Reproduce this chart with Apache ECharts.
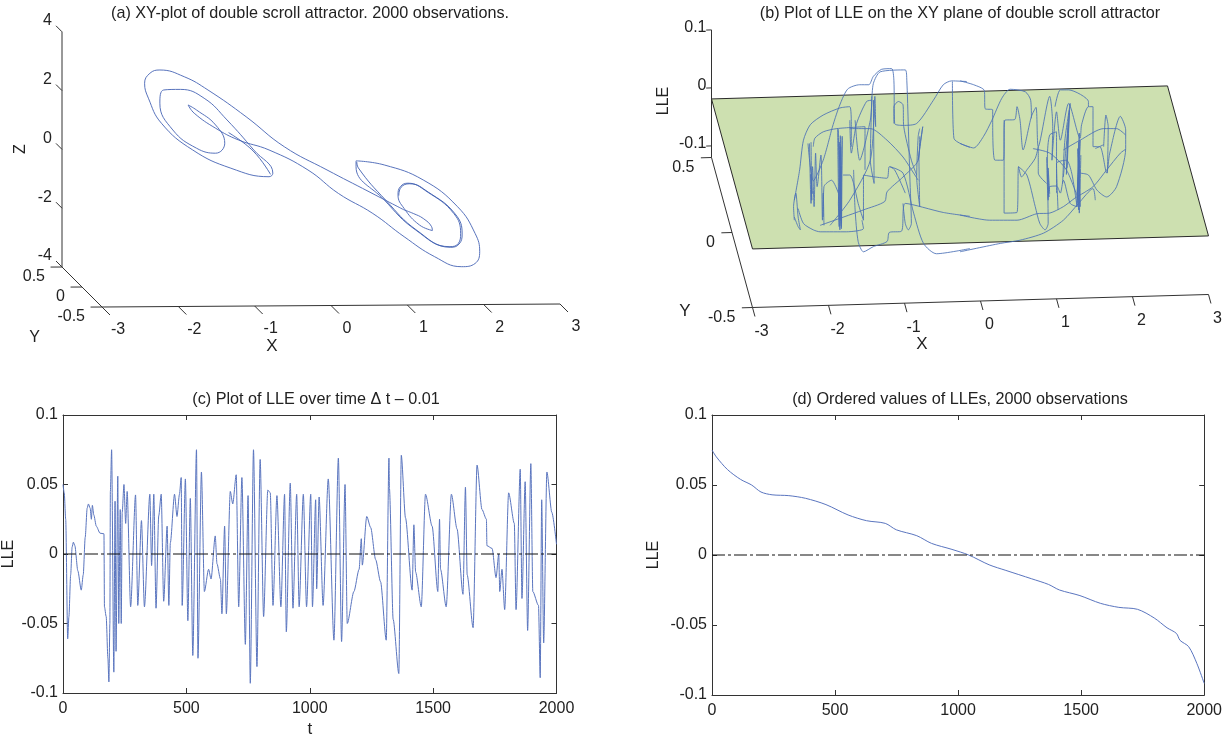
<!DOCTYPE html>
<html><head><meta charset="utf-8">
<style>html,body{margin:0;padding:0;background:#fff}#c{width:1225px;height:739px}</style>
<script src="https://cdn.jsdelivr.net/npm/echarts@6/dist/echarts.min.js"></script>
</head><body><div id="c"></div>
<script>
// ---------- panel (a): attractor as [X, Z]
const attractor = [[1.22,-1.43],[.76,-.81],[.21,-.07],[-.35,.72],[-.85,1.74],[-1.35,2.65],[-1.66,3.10],[-1.98,3.33],[-2.11,3.22],[-2.18,2.88],[-2.13,2.37],[-1.96,1.52],[-1.55,.61],[-1.05,-.01],[-.55,-.30],[-.50,-.18],[-.75,.61],[-1.10,1.63],[-1.40,2.37],[-1.71,2.67],[-1.93,2.65],[-1.98,2.20],[-1.81,1.29],[-1.50,.67],[-1.25,.50],[-1.13,.84],[-1.25,1.46],[-1.50,1.97],[-1.61,2.14],[-1.53,1.86],[-1.25,1.35],[-.95,.95],[-.55,.61],[-.04,-.07],[.36,-.87],[.81,-1.55],[1.22,-2.34],[1.62,-3.02],[1.97,-3.36],[2.15,-3.25],[2.21,-2.85],[2.15,-2.23],[1.92,-1.32],[1.47,-.41],[.96,.10],[.59,.24],[.59,.04],[.96,-1.09],[1.37,-2.11],[1.82,-2.68],[1.93,-2.57],[1.96,-2.23],[1.87,-1.55],[1.52,-.81],[1.27,-.52],[1.17,-.64],[1.14,-.92],[1.22,-1.38],[1.42,-1.94],[1.59,-2.13],[1.58,-2.0],[1.47,-1.72],[1.34,-1.55],[1.22,-1.43]];
const attractorRepeat = [[.60,.20],[.62,0],[.98,-1.1],[1.39,-2.13],[1.83,-2.70],[1.94,-2.59],[1.98,-2.25],[1.89,-1.57],[1.54,-.83],[1.29,-.54],[1.18,-.66],[1.15,-.94]];
const attractorCusp = [[-.53,-.22],[-.76,.58],[-1.08,1.2]];

// ---------- panel (b): LLE trace as [X, height]
const traceB = [
[[-2.18,-.06],[-2.11,-.013],[-2.06,.033],[-1.97,.057],[-1.8,.072],[-1.58,.083],[-1.45,.085],[-1.43,.054],[-1.43,.023]],
[[-1.69,.049],[-1.6,.082],[-1.48,.112],[-1.32,.119],[-1.2,.119],[-1.14,.132],[-1.03,.143],[-.9,.144],[-.87,.126],[-.86,.059],[-.75,.056],[-.57,.059],[-.35,.095],[-.22,.119],[-.11,.125],[.09,.124]],
[[-1.16,.095],[-1.14,.121],[-1.05,.139],[-.72,.142],[-.7,.126],[-.68,.054],[-.66,-.024],[-.64,-.096],[-.68,-.106],[-.72,-.096],[-.75,-.065]],
[[-.87,.059],[-.87,.085],[-.81,.093],[-.75,.088],[-.74,.054],[-.64,.002],[-.57,-.021]],
[[-1.93,.023],[-1.91,.036],[-1.8,.046],[-1.62,.051],[-1.25,.054],[-1.25,-.013]],
[[-1.45,.051],[-1.18,.051],[-.96,.033],[-.75,.007],[-.61,-.018],[-.55,-.029]],
[[-1.61,.051],[-1.59,-.101],[-1.57,.023],[-1.56,-.104],[-1.55,.039],[-1.58,-.106],[-1.6,-.065],[-1.57,-.008],[-1.58,-.091]],
[[-1.6,.05],[-1.585,-.09],[-1.575,.04],[-1.56,-.095],[-1.59,.03],[-1.565,-.1]],
[[-1.98,.028],[-1.96,-.065],[-1.94,-.008],[-1.92,-.07],[-1.9,.013],[-1.88,-.039],[-1.83,.01],[-1.81,-.091],[-1.8,-.049],[-1.79,-.099]],
[[-1.96,.03],[-1.95,-.06],[-1.965,-.02],[-1.94,-.05]],
[[-2.0,.028],[-1.93,-.03],[-1.8,.002],[-1.69,.049]],
[[-1.84,-.099],[-1.27,-.075],[-.99,-.062],[-.96,-.047],[-.75,-.024],[-.55,.002],[-.53,.039]],
[[-2.13,-.073],[-2.06,-.096],[-1.93,-.106],[-1.84,-.109],[-1.49,-.109],[-1.27,-.104],[-1.29,-.091]],
[[.13,-.085],[-.22,-.079],[-.72,-.065],[-.77,-.108],[-.93,-.11],[-.96,-.124],[-1.14,-.132],[-1.27,-.14],[-1.34,-.124],[-1.38,-.075],[-1.4,-.013]],
[[-1.8,-.086],[-1.79,-.039],[-1.69,-.029],[-1.6,-.049]],
[[-1.54,-.021],[-1.45,-.021],[-1.4,-.034],[-1.34,-.065],[-1.27,-.091],[-1.27,-.021],[-1.12,-.024],[-.96,-.026],[-.93,-.008],[-.86,-.013],[-.72,-.049]],
[[-.92,-.008],[-.75,-.018],[-.61,-.08],[-.48,-.127],[-.31,-.143],[.13,-.135]],
[[-2.18,-.091],[-2.19,-.07],[-2.16,-.049],[-2.13,-.086],[-2.1,-.106],[-2.13,-.101],[-2.18,-.086]],
[[-1.71,-.099],[-1.45,-.06],[-1.18,.002],[-1.12,.101],[-1.11,.054],[-1.14,.095],[-1.13,-.034],[-1.18,.002],[-1.16,.101]],
[[-.53,.051],[-.55,.039],[-.57,-.024],[-.53,-.07],[-.54,.007],[-.49,.054],[-.55,.002]],
[[-1.45,.064],[-1.43,.013],[-1.36,.059],[-1.23,.093],[-1.16,.095],[-1.18,.064],[-1.32,.002],[-1.38,.064]],
[[-.1,.124],[-.08,.036],[.13,.022]],
[[0,.125],[.18,.119],[.32,.11],[.33,.082],[.43,.08],[.43,.064],[.46,.002],[.57,.002],[.59,.064],[.72,.065],[.75,.085],[.79,.064],[.83,.018],[.94,.07],[1,.084],[1.03,.023],[1.18,.101],[1.22,.054],[1.21,.002],[1.27,.077],[1.32,.033],[1.43,.09],[1.58,.036],[1.6,.057],[1.69,.085],[1.75,.085],[1.75,.023],[1.84,.023],[1.93,-.018],[1.97,.013],[2.11,.07],[2.18,.049],[2.18,.02],[2.06,-.039],[1.93,-.055],[1.8,-.044],[1.69,-.021],[1.57,-.018]],
[[0,.028],[.18,.021],[.31,.039],[.42,.064],[.55,.098],[.66,.112],[.86,.108],[.93,.095],[.94,.067]],
[[.58,.064],[.58,-.08],[.75,-.079],[.77,-.008],[.81,-.024],[.88,-.013],[.99,.005],[1.03,.023],[1.03,-.018],[1.14,-.034]],
[[.77,-.008],[.88,-.021],[.99,-.07],[1.05,-.096],[1.12,-.106],[1.16,-.096],[1.15,.007],[1.18,.041],[1.27,.046],[1.27,-.049]],
[[0,-.083],[.39,-.091],[.75,-.091],[1.01,-.081],[1.18,-.08],[1.36,-.07],[1.51,-.057],[1.75,-.039],[1.93,-.013],[2.11,.013],[2.18,.019]],
[[0,-.14],[.53,-.127],[.79,-.122],[1.1,-.111],[1.36,-.091],[1.56,-.065],[1.75,-.042],[1.78,-.06]],
[[1.25,.085],[1.32,.111],[1.43,.111],[1.69,.093],[1.69,.085]],
[[1.54,-.065],[1.57,.044],[1.54,-.07],[1.58,.033],[1.56,-.075],[1.57,.002],[1.54,-.049]],
[[1.56,.03],[1.58,-.07],[1.55,.02],[1.57,-.08],[1.59,.01]],
[[.96,.02],[1.18,.013],[1.4,-.013],[1.56,-.06]],
[[1.36,.018],[1.58,.033],[1.89,.051],[2.06,.051],[2.18,.041]],
[[1.14,.007],[1.16,-.06],[1.18,-.039],[1.27,-.038],[1.32,-.049],[1.36,-.029],[1.45,-.065],[1.54,-.07],[1.47,-.018],[1.4,.002],[1.27,-.003],[1.29,-.075]],
[[1.15,-.02],[1.17,-.055],[1.16,-.01],[1.18,-.05]],
[[1.42,.06],[1.4,-.02],[1.44,.08],[1.41,-.01]],
[[1.89,.023],[1.92,.072],[1.95,.054],[1.94,-.018]],
[[1.78,.02],[1.89,.026]],
[[1.36,-.024],[1.45,.09],[1.38,.033],[1.35,-.034]]
];

// ---------- panel (c): LLE over time
const seriesT = [0,5,11,19,24,31,37,42,48,60,74,82,90,98,103,110,115,119,125,135,150,166,168,175,182,186,190,192,197,206,211,215,222,226,232,236,240,247,254,260,274,294,303,318,330,352,359,368,377,388,398,408,422,429,435,452,462,472,479,483,496,506,516,526,541,547,561,573,590,600,617,624,638,644,655,662,678,688,702,712,725,739,750,759,772,786,799,813,830,840,851,867,883,898,905,921,932,947,957,974,987,1004,1011,1024,1028,1038,1054,1075,1098,1116,1129,1143,1152,1179,1200,1209,1213,1231,1247,1267,1287,1310,1321,1323,1338,1361,1371,1388,1415,1422,1429,1452,1469,1496,1519,1526,1530,1553,1574,1597,1621,1631,1638,1662,1678,1698,1716,1718,1739,1755,1766,1770,1779,1790,1806,1829,1836,1853,1860,1873,1883,1896,1904,1927,1934,1940,1948,1961,1981,2000];
const seriesLLE = [.05,.044,.025,-.061,-.045,-.015,.005,.0085,.006,-.012,-.026,-.015,.012,.033,.036,.033,.025,.035,.028,.02,.015,.0145,-.038,-.045,-.075,-.092,-.05,.045,.075,-.085,.038,-.07,.056,-.05,.032,-.05,.03,.05,.022,.045,-.038,.0425,-.037,.024,-.038,.043,-.0083,.043,-.039,.0274,.043,-.034,.02,-.037,.008,.043,.027,.043,.055,-.037,.054,-.048,.04,-.073,.075,-.075,.059,-.027,-.011,-.018,.013,-.007,-.018,-.043,.02,-.043,.045,.036,.057,-.038,.055,-.065,.042,-.093,.075,-.081,.068,-.045,.046,.044,-.037,.042,-.038,.043,-.056,.051,-.039,.043,-.038,.043,-.038,.043,-.038,.039,-.025,.041,-.037,.054,-.062,.069,-.063,.05,-.05,-.027,-.011,.011,-.008,.027,.019,-.004,-.02,-.062,.069,.047,-.047,-.086,.071,.026,-.026,.021,-.013,-.038,.043,.02,-.027,.025,-.011,-.038,.043,.018,-.029,.048,-.015,-.053,.064,.032,.025,.006,.004,-.017,0,-.027,-.011,-.04,.044,.022,-.04,.061,-.032,.052,-.055,.065,-.027,-.037,-.089,.039,-.064,.059,.03,.007];

// ---------- panel (d): ordered LLEs
const orderIndex = [0,18,63,116,161,199,244,312,380,463,553,628,704,749,832,892,975,1043,1126,1194,1299,1367,1412,1495,1578,1653,1729,1797,1849,1887,1902,1937,1970,2000];
const orderedLLE = [.075,.07,.061,.054,.05,.045,.043,.0424,.0405,.036,.0286,.0245,.0226,.018,.0138,.0083,.004,0,-.007,-.011,-.017,-.021,-.025,-.029,-.0345,-.0374,-.0388,-.045,-.052,-.056,-.061,-.0655,-.0774,-.0917];

// ---------- ticks and titles
const xTicks3d = [-3,-2,-1,0,1,2,3];
const yTicks3d = [0.5,0,-0.5];
const zTicksA = [4,2,0,-2,-4];
const zTicksB = [0.1,0,-0.1];
const titles = ['(a) XY-plot of double scroll attractor. 2000 observations.','(b) Plot of LLE on the XY plane of double scroll attractor','(c) Plot of LLE over time \u0394 t \u2013 0.01','(d) Ordered values of LLEs, 2000 observations'];

// ---------- oblique views of the two 3-D panels
const viewA = (x,y,z)=>[311+76.33*x-40*y, 167.9-29.4*z-0.5*x-40*y];
const viewB = (x,y,z)=>[960+76*x-41*y, 226-2.17*x-150*y-580*(z+0.12)];
const traceA = ([x,z])=>[311+76.33*x, 167.9-29.4*z];
const traceViewB = ([x,h])=>[960+76*x, 226-645*(h+0.1)];

const FONT='"Liberation Sans",Arial,sans-serif', INK='#222', AXIS='#333', BLUE='#4f6cb8';
const series=[];
const seg=(pts,g,w,color)=>series.push({type:'line',xAxisIndex:g,yAxisIndex:g,data:pts,symbol:'none',silent:true,lineStyle:{color:color||AXIS,width:w||1},z:3});
const curve=(pts,g,col,w,op,sm)=>series.push({type:'line',xAxisIndex:g,yAxisIndex:g,data:pts,symbol:'none',silent:true,smooth:sm,lineStyle:{color:col,width:w,opacity:op},z:4});
const text=(g,items)=>series.push({type:'custom',xAxisIndex:g,yAxisIndex:g,silent:true,z:6,clip:false,
  data:items.map((t,i)=>[t.p[0]+(t.dx||0),t.p[1]+(t.dy||0),i]),encode:{x:0,y:1},
  renderItem:(ps,api)=>{const t=items[api.value(2)],c=api.coord([api.value(0),api.value(1)]);
    return {type:'text',x:c[0],y:c[1],rotation:t.rot||0,style:{text:String(t.s),fill:INK,font:(t.size||16)+'px '+FONT,textAlign:t.al||'center',textVerticalAlign:'middle',verticalAlign:'middle'}};}});

// --- panel (a)
seg([viewA(-3,.5,-4),viewA(-3,.5,4)],0);
seg([viewA(-3,.5,-4),viewA(-3,-.5,-4)],0);
seg([viewA(-3,-.5,-4),viewA(3,-.5,-4)],0);
xTicks3d.forEach(x=>seg([viewA(x,-.5,-4),viewA(x,-.7,-4)],0));
yTicks3d.forEach(y=>seg([viewA(-3,y,-4),viewA(-3.15,y,-4)],0));
zTicksA.forEach(z=>seg([viewA(-3,.5,z),viewA(-3,.65,z)],0));
curve(attractor.map(traceA),0,BLUE,1,.95,.45);
curve(attractorRepeat.map(traceA),0,'#3f5fb0',1,.9,.45);
curve(attractorCusp.map(traceA),0,'#3f5fb0',1,.9,.45);
text(0,[
 ...xTicks3d.map(x=>({p:viewA(x,-.5,-4),dx:16,dy:23,s:x})),
 ...yTicks3d.map(y=>({p:viewA(-3,y,-4),dx:-17,dy:10,s:y,al:'right'})),
 ...zTicksA.map(z=>({p:viewA(-3,.5,z),dx:-10,dy:-11,s:z,al:'right'})),
 {p:[272,346],s:'X',size:17},{p:[34.5,338],s:'Y'},{p:[21,149],s:'Z',rot:Math.PI/2}
]);

// --- panel (b)
const planeCorners=[[-3,.5],[3,.5],[3,-.5],[-3,-.5]], planeZ=-0.019;
const planeView=planeCorners.map(c=>viewB(c[0],c[1],planeZ));
series.push({type:'custom',xAxisIndex:1,yAxisIndex:1,silent:true,z:2,clip:false,data:planeView,encode:{x:0,y:1},
  renderItem:(ps,api)=>ps.dataIndexInside!==0?null:{type:'polygon',shape:{points:planeView.map(c=>api.coord(c))},style:{fill:'#cde0b0',stroke:'#2a2a2a',lineWidth:1}}});
seg([viewB(-3,.5,-.12),viewB(-3,.5,.1)],1);
seg([viewB(-3,.5,-.12),viewB(-3,-.5,-.12)],1);
seg([viewB(-3,-.5,-.12),viewB(3,-.5,-.12)],1);
xTicks3d.forEach(x=>seg([viewB(x,-.5,-.12),viewB(x,-.56,-.12)],1));
yTicks3d.forEach(y=>seg([viewB(-3,y,-.12),viewB(-3.14,y,-.12)],1));
zTicksB.forEach(z=>seg([viewB(-3,.5,z),viewB(-3.07,.5,z)],1));
traceB.forEach(s=>curve(s.map(traceViewB),1,'#4a70b6',1,.85,.25));
text(1,[
 ...xTicks3d.map(x=>({p:viewB(x,-.5,-.12),dx:9,dy:24,s:x})),
 ...yTicks3d.map(y=>({p:viewB(-3,y,-.12),dx:-17,dy:10,s:y,al:'right'})),
 ...zTicksB.map(z=>({p:viewB(-3,.5,z),dx:-5,dy:-2,s:z,al:'right'})),
 {p:[922,344],s:'X',size:17},{p:[685,311],s:'Y',size:17},{p:[664,101],s:'LLE',rot:Math.PI/2}
]);

// --- panels (c) and (d)
const zeroStyle={color:'#111',width:1.2,type:[13,3,3,3]};
const lineOf=(xs,ys)=>xs.map((x,i)=>[x,ys[i]]);
series.push({type:'line',xAxisIndex:2,yAxisIndex:2,data:lineOf(seriesT,seriesLLE),symbol:'none',silent:true,smooth:0.25,smoothMonotone:'x',lineStyle:{color:'#5a75bf',width:1},z:3});
series.push({type:'line',xAxisIndex:2,yAxisIndex:2,data:[[0,0],[2000,0]],symbol:'none',silent:true,lineStyle:zeroStyle,z:4});
series.push({type:'line',xAxisIndex:3,yAxisIndex:3,data:lineOf(orderIndex,orderedLLE),symbol:'none',silent:true,smooth:0.3,lineStyle:{color:'#5a75bf',width:1},z:3});
series.push({type:'line',xAxisIndex:3,yAxisIndex:3,data:[[0,0],[2000,0]],symbol:'none',silent:true,lineStyle:zeroStyle,z:4});

const hidden=(min,max,inv)=>({type:'value',min,max,inverse:!!inv,show:false,splitLine:{show:false}});
const line={show:true,onZero:false,lineStyle:{color:AXIS,width:1}}, tick={show:true,inside:true,length:5,lineStyle:{color:AXIS}};
const lab=m=>({show:true,color:INK,fontSize:16,fontFamily:FONT,margin:m,formatter:v=>String(v)});
const xReal=(g,name)=>({type:'value',gridIndex:g,min:0,max:2000,interval:500,position:'bottom',axisLine:line,axisTick:tick,splitLine:{show:false},axisLabel:lab(8),
  name,nameLocation:'middle',nameGap:28,nameTextStyle:{color:INK,fontSize:17,fontFamily:FONT}});
const yReal=(g,gap)=>({type:'value',gridIndex:g,min:-0.1,max:0.1,interval:0.05,position:'left',axisLine:line,axisTick:tick,splitLine:{show:false},axisLabel:lab(5),
  name:'LLE',nameLocation:'middle',nameGap:gap,nameTextStyle:{color:INK,fontSize:16,fontFamily:FONT}});
const xTop=g=>({type:'value',gridIndex:g,min:0,max:2000,interval:500,position:'top',axisLine:line,axisTick:tick,axisLabel:{show:false},splitLine:{show:false}});
const yRight=g=>({type:'value',gridIndex:g,min:-0.1,max:0.1,interval:0.05,position:'right',axisLine:line,axisTick:tick,axisLabel:{show:false},splitLine:{show:false}});

const tTitle=(i,cx,y)=>({text:titles[i],left:cx,top:y,textAlign:'center',textStyle:{color:INK,fontSize:16.2,fontWeight:'normal',fontFamily:FONT}});
const chart=echarts.init(document.getElementById('c'),null,{renderer:'canvas'});
chart.setOption({animation:false,backgroundColor:'#fff',
 title:[tTitle(0,305,1),tTitle(1,955,1),tTitle(2,311,387),tTitle(3,955,387)],
 grid:[
  {left:0,top:0,width:612,height:370},
  {left:612,top:0,width:613,height:370},
  {left:62,top:415,width:494.5,height:280},
  {left:712,top:415,width:497,height:280}
 ],
 xAxis:[{...hidden(0,612),gridIndex:0},{...hidden(612,1225),gridIndex:1},xReal(2,'t'),xReal(3,''),xTop(2),xTop(3)],
 yAxis:[{...hidden(0,370,true),gridIndex:0},{...hidden(0,370,true),gridIndex:1},yReal(2,46),yReal(3,50),yRight(2),yRight(3)],
 series
});
</script></body></html>
